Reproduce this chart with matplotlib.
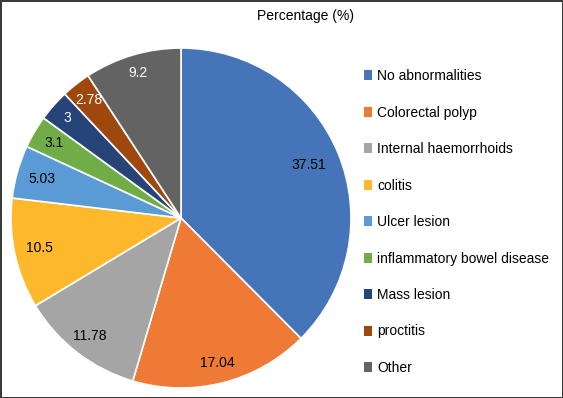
import numpy as np
import matplotlib
matplotlib.use("Agg")
import matplotlib.pyplot as plt

plt.rcParams['font.family'] = ['Liberation Sans', 'DejaVu Sans']

categories = ["No abnormalities", "Colorectal polyp", "Internal haemorrhoids", "colitis",
              "Ulcer lesion", "inflammatory bowel disease", "Mass lesion", "proctitis", "Other"]
values = [37.51, 17.04, 11.78, 10.5, 5.03, 3.1, 3, 2.78, 9.2]
value_labels = ["37.51", "17.04", "11.78", "10.5", "5.03", "3.1", "3", "2.78", "9.2"]

colors = ["#4674B8", "#EE7A36", "#A5A5A5", "#FDB92B", "#5B9BD5",
          "#70AD47", "#264478", "#9E480E", "#636363"]
text_colors = ["black"] * 6 + ["white"] * 3
label_r = [0.81, 0.88, 0.88, 0.85, 0.85, 0.87, 0.89, 0.88, 0.89]

W, H = 563, 398
fig = plt.figure(figsize=(W / 100, H / 100), dpi=100)
fig.patch.set_edgecolor("#3a3a3a")
fig.patch.set_linewidth(2)

cx, cy, r = 181, 398 - 218, 170
ax = fig.add_axes([(cx - r) / W, (cy - r) / H, 2 * r / W, 2 * r / H])
wedges, _ = ax.pie(values, colors=colors, startangle=90, counterclock=False,
                   radius=1, wedgeprops=dict(edgecolor="white", linewidth=1.2))
ax.set_xlim(-1, 1)
ax.set_ylim(-1, 1)
ax.set_aspect("equal")
ax.axis("off")

for w, lab, tc, lr in zip(wedges, value_labels, text_colors, label_r):
    ang = np.deg2rad((w.theta1 + w.theta2) / 2)
    ax.text(lr * np.cos(ang), lr * np.sin(ang), lab, ha="center", va="center",
            fontsize=10, color=tc)

fig.text(305 / W, 1 - 16 / H, "Percentage (%)", ha="center", va="center", fontsize=10)

leg = fig.legend(wedges, categories, loc="upper left",
                 bbox_to_anchor=(364 / W, 1 - 69 / H), frameon=False,
                 fontsize=10, handlelength=0.55, handleheight=0.75,
                 handletextpad=0.4, labelspacing=1.62, borderaxespad=0,
                 borderpad=0)
for h in leg.legend_handles:
    h.set_linewidth(0)

fig.savefig("out.png", dpi=100)
